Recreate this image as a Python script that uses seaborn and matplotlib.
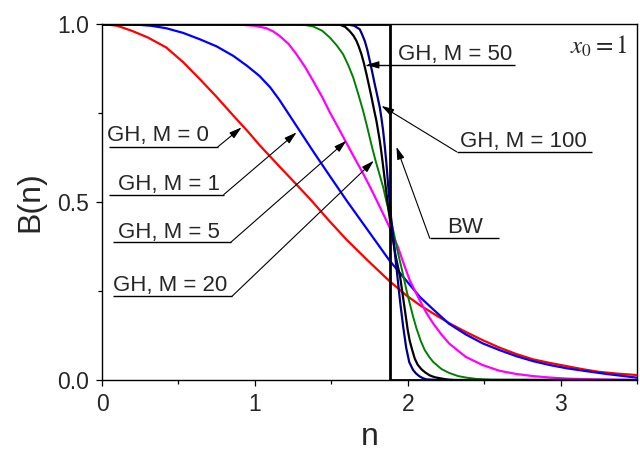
import matplotlib
matplotlib.use("Agg")
import matplotlib.pyplot as plt
import pandas as pd
import seaborn as sns
from matplotlib.ticker import MultipleLocator, FormatStrFormatter

# ---------------- data ----------------
n_m0 = [0.0, 0.1, 0.2, 0.3, 0.42, 0.53, 0.64, 0.75, 0.86, 0.95, 1.03, 1.16, 1.27, 1.37, 1.48, 1.6, 1.74, 1.88,
        1.99, 2.08, 2.17, 2.27, 2.38, 2.49, 2.6, 2.71, 2.82, 2.93, 3.04, 3.15, 3.25, 3.37, 3.5]
b_m0 = [1.0, 0.995, 0.980, 0.962, 0.934, 0.893, 0.845, 0.795, 0.742, 0.70, 0.66, 0.60, 0.55, 0.504, 0.45, 0.394,
        0.335, 0.278, 0.238, 0.21, 0.186, 0.16, 0.135, 0.112, 0.091, 0.073, 0.058, 0.048, 0.039, 0.030, 0.023, 0.018, 0.014]

n_m1 = [0.0, 0.2, 0.32, 0.42, 0.53, 0.64, 0.75, 0.86, 0.95, 1.03, 1.1, 1.16, 1.27, 1.38, 1.49, 1.6, 1.73, 1.81,
        1.88, 1.95, 2.02, 2.08, 2.17, 2.27, 2.38, 2.49, 2.6, 2.71, 2.82, 2.93, 3.04, 3.15, 3.3, 3.5]
b_m1 = [1.0, 0.999, 0.995, 0.988, 0.975, 0.957, 0.937, 0.910, 0.882, 0.854, 0.822, 0.787, 0.715, 0.643, 0.573,
        0.504, 0.426, 0.378, 0.336, 0.30, 0.264, 0.233, 0.197, 0.158, 0.128, 0.103, 0.084, 0.067, 0.053, 0.042,
        0.033, 0.026, 0.017, 0.0066]

n_m5 = [0.0, 0.6, 0.8, 0.9, 1.0, 1.076, 1.12, 1.163, 1.22, 1.272, 1.33, 1.381, 1.44, 1.49, 1.55, 1.6, 1.65, 1.708,
        1.75, 1.795, 1.84, 1.882, 1.937, 1.975, 2.013, 2.078, 2.12, 2.166, 2.22, 2.27, 2.33, 2.38, 2.49, 2.6, 2.71,
        2.82, 2.93, 3.04, 3.2, 3.5]
b_m5 = [1.0, 1.0, 0.999, 0.998, 0.995, 0.988, 0.979, 0.966, 0.944, 0.915, 0.878, 0.84, 0.795, 0.752, 0.705, 0.665,
        0.625, 0.58, 0.545, 0.506, 0.466, 0.428, 0.372, 0.325, 0.28, 0.224, 0.19, 0.159, 0.128, 0.103, 0.082, 0.065,
        0.042, 0.026, 0.017, 0.011, 0.007, 0.004, 0.002, 0.0]

n_m20 = [0.0, 1.0, 1.2, 1.27, 1.33, 1.381, 1.44, 1.49, 1.535, 1.577, 1.61, 1.643, 1.675, 1.708, 1.735, 1.763, 1.79,
         1.817, 1.84, 1.861, 1.89, 1.915, 1.94, 1.97, 1.99, 2.013, 2.035, 2.057, 2.085, 2.11, 2.14, 2.166, 2.22,
         2.27, 2.33, 2.38, 2.45, 2.55, 3.5]
b_m20 = [1.0, 1.0, 1.0, 0.999, 0.997, 0.993, 0.981, 0.962, 0.94, 0.915, 0.885, 0.85, 0.805, 0.756, 0.71, 0.66,
         0.615, 0.575, 0.54, 0.50, 0.45, 0.40, 0.35, 0.295, 0.255, 0.215, 0.178, 0.145, 0.11, 0.085, 0.065, 0.051,
         0.031, 0.02, 0.011, 0.007, 0.003, 0.001, 0.0]

n_m50 = [0.0, 1.4, 1.5, 1.556, 1.59, 1.62, 1.645, 1.665, 1.68, 1.697, 1.713, 1.73, 1.745, 1.763, 1.78, 1.795,
         1.806, 1.817, 1.828, 1.839, 1.852, 1.865, 1.877, 1.89, 1.905, 1.92, 1.935, 1.95, 1.96, 1.97, 1.98, 1.99,
         2.0, 2.013, 2.03, 2.046, 2.065, 2.09, 2.115, 2.144, 2.175, 2.21, 2.25, 2.3, 3.5]
b_m50 = [1.0, 1.0, 0.9995, 0.998, 0.992, 0.98, 0.967, 0.952, 0.936, 0.915, 0.89, 0.859, 0.83, 0.794, 0.758, 0.728,
         0.70, 0.672, 0.638, 0.60, 0.555, 0.51, 0.47, 0.43, 0.39, 0.35, 0.32, 0.29, 0.26, 0.23, 0.20, 0.17, 0.14,
         0.11, 0.083, 0.06, 0.043, 0.03, 0.021, 0.013, 0.008, 0.005, 0.002, 0.0, 0.0]

n_m100 = [0.0, 1.5, 1.6, 1.65, 1.686, 1.70, 1.719, 1.735, 1.752, 1.768, 1.784, 1.80, 1.817, 1.828, 1.839, 1.85,
          1.86, 1.875, 1.89, 1.91, 1.93, 1.95, 1.97, 1.99, 2.01, 2.035, 2.055, 2.078, 2.1, 2.12, 2.16, 2.2, 3.5]
b_m100 = [1.0, 1.0, 0.999, 0.995, 0.985, 0.972, 0.952, 0.928, 0.896, 0.864, 0.831, 0.80, 0.766, 0.735, 0.70, 0.655,
          0.61, 0.53, 0.46, 0.38, 0.30, 0.22, 0.15, 0.09, 0.05, 0.028, 0.018, 0.01, 0.005, 0.002, 0.001, 0.0, 0.0]

n_bw = [0.0, 1.887, 1.887, 3.5]
b_bw = [1.0, 1.0, 0.0, 0.0]

curve_names = ["GH, M = 0", "GH, M = 1", "GH, M = 5", "GH, M = 20", "GH, M = 50", "GH, M = 100", "BW"]
curve_n = [n_m0, n_m1, n_m5, n_m20, n_m50, n_m100, n_bw]
curve_b = [b_m0, b_m1, b_m5, b_m20, b_m50, b_m100, b_bw]
curve_colors = ["#ff0000", "#0000ff", "#ff00ff", "#008000", "#000000", "#000080", "#000000"]
curve_widths = [1.6, 1.6, 1.6, 1.4, 1.6, 1.6, 2.0]

x_ticks = [0, 1, 2, 3]
y_ticks = [0.0, 0.5, 1.0]

# label layout: (text x, text baseline y, underline x0, underline x1, underline y, arrow tip x, arrow tip y)
label_layout = [
    (0.033, 0.672, 0.046, 0.758, 0.655, 0.913, 0.7095),
    (0.105, 0.534, 0.046, 0.797, 0.521, 1.273, 0.6955),
    (0.105, 0.400, 0.072, 0.843, 0.387, 1.599, 0.672),
    (0.072, 0.249, 0.072, 0.850, 0.235, 1.778, 0.616),
    (1.935, 0.899, 1.730, 2.699, 0.885, 1.730, 0.885),
    (2.340, 0.655, 2.320, 3.203, 0.641, 1.828, 0.770),
    (2.255, 0.412, 2.144, 2.595, 0.398, 1.926, 0.655),
]
label_arrow_from_right_end = [True, True, True, True, False, False, False]

# ---------------- style ----------------
sns.set_style("ticks")
plt.rcParams["font.family"] = ["Liberation Sans", "DejaVu Sans"]
plt.rcParams["mathtext.fontset"] = "stix"

fig = plt.figure(figsize=(6.4, 4.53), dpi=100)
ax = fig.add_axes([0.1594, 0.1611, 0.836, 0.786])

for name, nn, bb, c, w in zip(curve_names, curve_n, curve_b, curve_colors, curve_widths):
    df = pd.DataFrame({"n": nn, "B": bb})
    sns.lineplot(data=df, x="n", y="B", color=c, linewidth=w, sort=False,
                 estimator=None, ax=ax, zorder=3 if name != "BW" else 4)

ax.set_xlim(0, 3.5)
ax.set_ylim(0, 1.0)
ax.set_xticks(x_ticks)
ax.set_yticks(y_ticks)
ax.xaxis.set_minor_locator(MultipleLocator(0.5))
ax.yaxis.set_minor_locator(MultipleLocator(0.25))
ax.yaxis.set_major_formatter(FormatStrFormatter("%.1f"))
ax.tick_params(which="major", direction="out", length=4.5, width=0.9, labelsize=16.5, pad=5, color="black")
ax.tick_params(which="minor", direction="out", length=2.6, width=0.9, color="black")
for s in ax.spines.values():
    s.set_linewidth(1.0)
    s.set_color("black")

ax.set_xlabel("n", fontsize=23, labelpad=4)
ax.set_ylabel("B(n)", fontsize=23, labelpad=8)

# labels with leader arrows
for name, lay, fromright in zip(curve_names, label_layout, label_arrow_from_right_end):
    tx, ty, ux0, ux1, uy, ax_, ay_ = lay
    ax.text(tx, ty, name, fontsize=16, ha="left", va="baseline", zorder=5)
    ax.plot([ux0, ux1], [uy, uy], color="black", lw=1.0, zorder=5, solid_capstyle="butt")
    start = (ux1, uy) if fromright else (ux0, uy)
    if name == "GH, M = 50":
        start = (ux0 + 0.08, uy)
    ax.annotate("", xy=(ax_, ay_), xytext=start,
                arrowprops=dict(arrowstyle="-|>,head_length=0.75,head_width=0.22",
                                mutation_scale=10, lw=0.8, color="black",
                                shrinkA=0, shrinkB=0), zorder=5)

ax.text(3.438, 0.917, r"$x_0=1$", fontsize=18, ha="right", va="baseline")

fig.savefig("out.png", dpi=100)
